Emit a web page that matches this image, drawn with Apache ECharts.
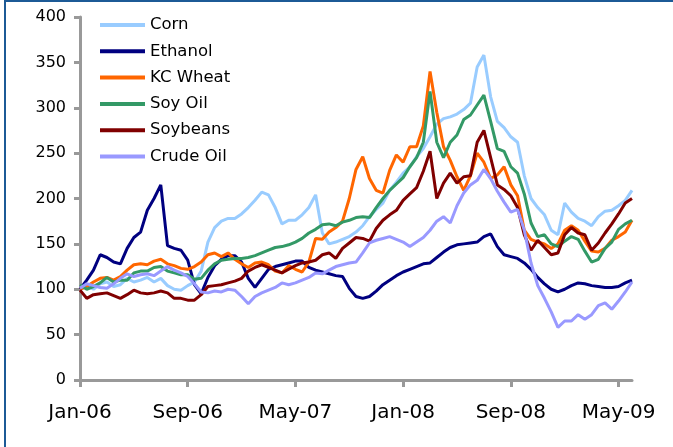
<!DOCTYPE html>
<html>
<head>
<meta charset="utf-8">
<script src="https://cdn.jsdelivr.net/npm/echarts@6/dist/echarts.min.js"></script>
<style>
  html, body { margin: 0; padding: 0; background: #fff; overflow: hidden; }
  #chart { position: absolute; left: 0; top: 0; width: 673px; height: 447px; }
  .frame {
    position: absolute; left: 4px; top: 0; width: 720px; height: 500px;
    border-left: 2px solid #1c5a96; border-top: 2px solid #1c5a96;
    pointer-events: none;
  }
</style>
</head>
<body>
<div id="chart"></div>
<div class="frame"></div>
<script>
  // one point every half month, starting Jan-06
  const tickLabels = ['Jan-06', 'Sep-06', 'May-07', 'Jan-08', 'Sep-08', 'May-09'];
  const tickMonths = [0, 8, 16, 24, 32, 40];

  const corn = [100,104,100,106,108,103,105,112,108,110,
    113,108,112,104,100,99,104,108,120,152,
    168,175,178,178,183,190,198,207,204,190,
    172,176,176,182,190,204,162,150,152,155,
    158,163,170,180,188,195,209,218,228,235,
    246,255,268,282,288,290,293,298,305,345,
    358,312,285,278,268,262,225,200,190,182,
    165,160,195,185,178,175,170,180,186,187,
    192,198,209];

  const ethanol = [100,110,121,138,135,130,128,145,157,163,
    187,200,215,148,145,143,132,105,95,113,
    126,133,137,137,130,112,102,112,122,125,
    127,129,131,131,124,121,119,117,115,114,
    101,92,90,92,98,105,110,115,119,122,
    125,128,129,135,141,146,149,150,151,152,
    158,161,147,138,136,134,129,122,113,106,
    100,97,100,104,107,106,104,103,102,102,
    103,107,110];

  const kcWheat = [100,103,108,112,113,110,114,121,127,128,
    127,131,133,128,126,123,122,125,130,138,
    140,136,140,133,128,124,129,130,127,120,
    118,126,122,119,130,156,155,163,168,175,
    200,232,246,222,209,206,231,248,240,257,
    257,280,340,295,257,242,224,209,225,250,
    240,222,226,235,215,203,165,155,152,150,
    145,150,165,170,165,153,142,141,145,154,
    158,163,176];

  const soyOil = [105,100,103,107,113,108,110,110,118,120,
    120,124,125,120,118,116,116,111,112,121,
    128,132,133,134,134,135,137,140,143,146,
    147,149,152,156,162,166,171,172,170,174,
    176,179,180,179,190,200,209,216,223,235,
    245,262,318,262,245,262,270,287,292,303,
    314,285,255,252,235,228,205,173,158,160,
    150,147,153,158,155,142,130,133,145,152,
    166,172,176];

  const soybeans = [99,90,94,95,96,93,90,94,99,96,
    95,96,98,96,90,90,88,88,94,103,
    104,105,107,109,112,120,124,127,124,121,
    118,122,126,129,130,132,138,140,134,145,
    151,157,156,153,167,176,182,187,198,205,
    212,230,252,200,217,228,217,224,225,262,
    275,245,215,210,203,190,160,143,154,146,
    138,140,160,168,162,160,143,151,162,172,
    183,195,200];

  const crudeOil = [101,106,104,102,101,106,112,117,114,116,
    117,115,120,125,121,118,114,106,97,96,
    98,97,100,99,92,84,92,96,99,102,
    107,105,107,110,113,118,117,121,125,127,
    129,130,140,151,154,156,158,155,152,147,
    152,157,165,175,180,173,192,206,215,220,
    232,222,208,196,185,188,165,129,104,90,
    75,58,65,65,72,67,72,82,85,78,
    87,97,108];

  const seriesList = [
    {name: 'Corn', data: corn, color: '#99ccff'},
    {name: 'Ethanol', data: ethanol, color: '#000080'},
    {name: 'KC Wheat', data: kcWheat, color: '#ff6600'},
    {name: 'Soy Oil', data: soyOil, color: '#339966'},
    {name: 'Soybeans', data: soybeans, color: '#800000'},
    {name: 'Crude Oil', data: crudeOil, color: '#9999ff'}
  ];

  const font = 'DejaVu Sans';
  let myChart = echarts.init(document.getElementById('chart'));
  let option = {
    animation: false,
    backgroundColor: '#fff',
    grid: {left: 80, right: 41, top: 17, bottom: 67},
    legend: {
      orient: 'vertical',
      left: 100,
      top: 16,
      padding: 0,
      itemGap: 8.3,
      itemWidth: 45,
      itemHeight: 4,
      icon: 'rect',
      textStyle: {fontFamily: font, fontSize: 16.5, color: '#000', lineHeight: 18},
      data: seriesList.map(s => s.name)
    },
    xAxis: {
      type: 'value',
      min: 0,
      max: 41,
      axisLine: {lineStyle: {color: '#999', width: 3}},
      axisTick: {customValues: tickMonths, length: 7, lineStyle: {color: '#999', width: 3}},
      axisLabel: {
        customValues: tickMonths,
        margin: 23,
        fontFamily: font,
        fontSize: 20,
        color: '#000',
        formatter: v => tickLabels[tickMonths.indexOf(v)] || ''
      },
      splitLine: {show: false}
    },
    yAxis: {
      type: 'value',
      min: 0,
      max: 400,
      interval: 50,
      axisLine: {show: true, lineStyle: {color: '#999', width: 3}},
      axisTick: {show: true, length: 6, lineStyle: {color: '#999', width: 3}},
      axisLabel: {margin: 14, fontFamily: font, fontSize: 16, color: '#000'},
      splitLine: {show: false}
    },
    series: seriesList.map(s => ({
      name: s.name,
      type: 'line',
      symbol: 'none',
      color: s.color,
      lineStyle: {width: 3, color: s.color},
      data: s.data.map((v, i) => [i / 2, v])
    }))
  };
  myChart.setOption(option);
</script>
</body>
</html>
